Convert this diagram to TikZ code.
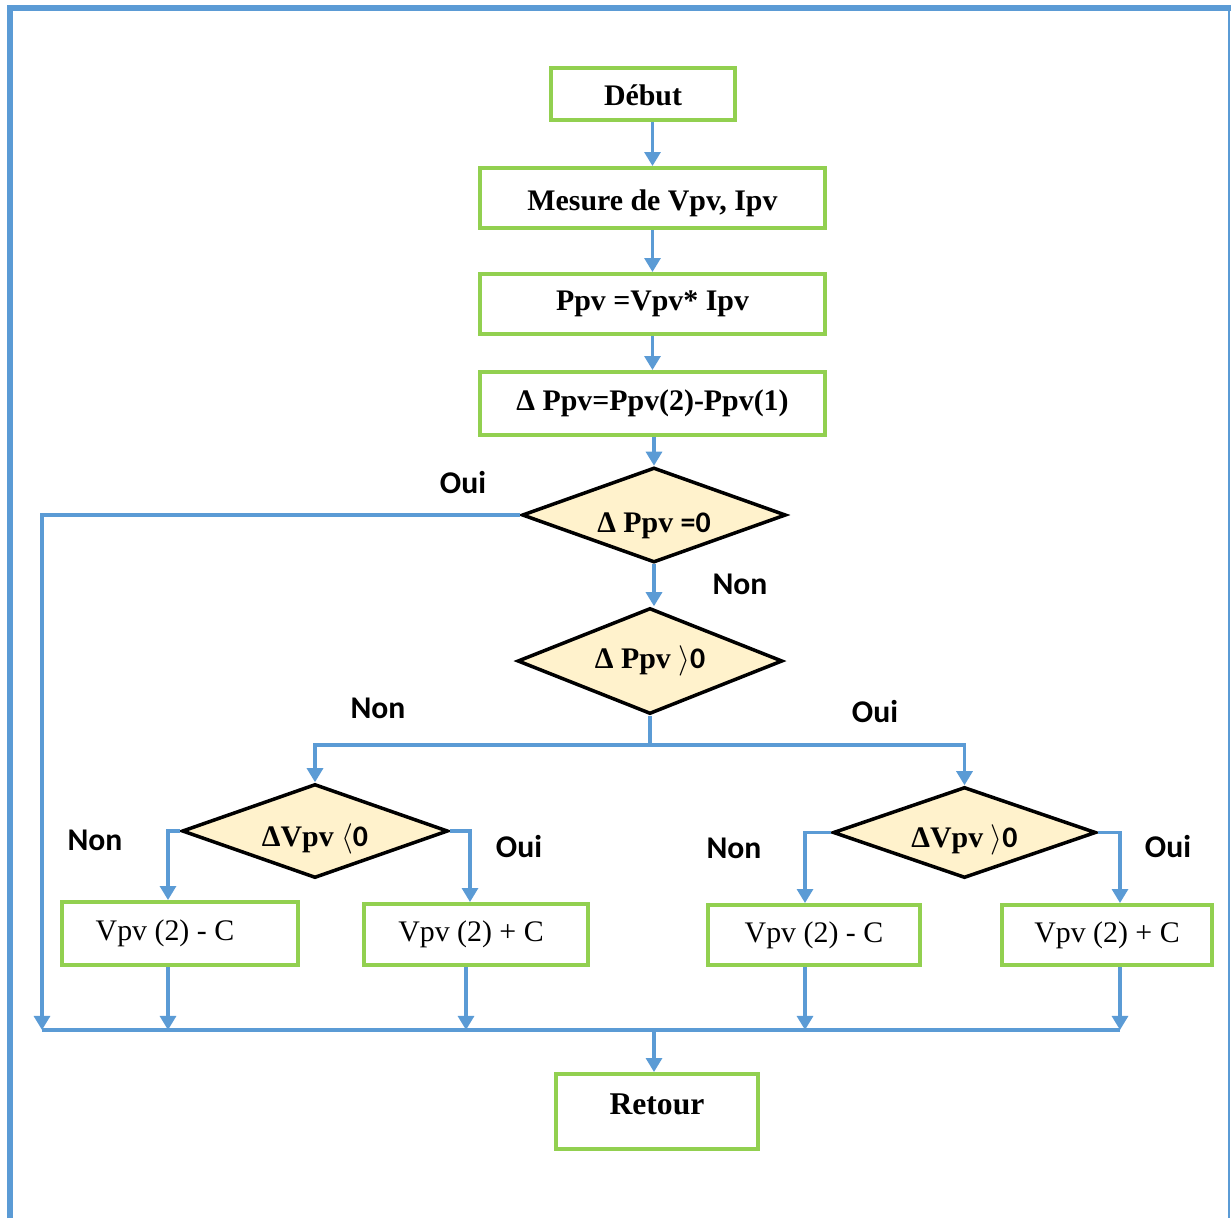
\documentclass[tikz,border=0pt]{standalone}
\usepackage{fontspec}
\setmainfont{Liberation Serif}
\newfontfamily\carlito{Carlito}
\usetikzlibrary{arrows.meta}
\usetikzlibrary{shapes.geometric}

\definecolor{linkblue}{HTML}{5B9BD5}
\definecolor{boxgreen}{HTML}{92D050}
\definecolor{decfill}{HTML}{FFF2CC}

\tikzset{
    procbox/.style={
        draw=boxgreen,
        line width=2.2pt,
        inner sep=0pt,
        font=\fontsize{17}{20}\selectfont\bfseries
    },
    valbox/.style={
        procbox,
        font=\fontsize{17}{20}\selectfont
    },
    decision/.style={
        diamond,
        aspect=2.8,
        draw=black,
        fill=decfill,
        line width=2pt,
        inner sep=0pt,
        font=\fontsize{17}{20}\selectfont\bfseries
    },
    link/.style={draw=linkblue, line width=2.2pt},
    flow/.style={link, -{Triangle[width=9pt,length=8pt]}},
    answer/.style={font=\carlito\fontsize{18}{20}\selectfont\bfseries}
}

\begin{document}
\begin{tikzpicture}[x=0.02cm, y=-0.02cm]
        \useasboundingbox (0,0) rectangle (1231,1218);
        % frame
        \draw[linkblue, line width=0.12cm] (10,1218) -- (10,8) -- (1231,8);
        \draw[linkblue, line width=0.04cm] (1229,8) -- (1229,1218);

        % top of the chart
        \node[procbox, minimum width=3.68cm, minimum height=1.04cm, text height=0.45cm, text depth=0cm] (debut) at (643,94) {Début};
        \node[procbox, minimum width=6.9cm, minimum height=1.2cm, text height=0.5cm, text depth=0cm] (mesure) at (652.5,198) {Mesure de Vpv, Ipv};
        \node[procbox, minimum width=6.9cm, minimum height=1.2cm] (ppv) at (652.5,304) {Ppv =Vpv* Ipv};
        \node[procbox, minimum width=6.9cm, minimum height=1.26cm] (dppv) at (652.5,403.5) {Δ Ppv=Ppv(2)-Ppv(1)};

        % tests
        \node[decision, minimum width=5.28cm, minimum height=1.9cm, text height=0.7cm, text depth=0cm] (d1) at (654,515) {Δ Ppv {\carlito =0}};
        \node[decision, minimum width=5.3cm, minimum height=2.12cm] (d2) at (650,661) {Δ Ppv $\rangle${\carlito 0}};
        \node[decision, minimum width=5.32cm, minimum height=1.88cm, text height=0.6cm, text depth=0cm] (d3) at (315,831) {ΔVpv $\langle${\carlito 0}};
        \node[decision, minimum width=5.26cm, minimum height=1.82cm, text height=0.6cm, text depth=0cm] (d4) at (964.5,832.5) {ΔVpv $\rangle${\carlito 0}};

        % new values
        \node[valbox, minimum width=4.72cm, minimum height=1.26cm] (b1) at (180,933.5) {\hspace*{-0.6cm}Vpv (2) - C};
        \node[valbox, minimum width=4.48cm, minimum height=1.22cm] (b2) at (476,934.5) {\hspace*{-0.2cm}Vpv (2) + C};
        \node[valbox, minimum width=4.24cm, minimum height=1.2cm] (b3) at (814,935) {Vpv (2) - C};
        \node[valbox, minimum width=4.2cm, minimum height=1.2cm] (b4) at (1107,935) {Vpv (2) + C};
        \node[procbox, minimum width=4.04cm, minimum height=1.5cm, text height=0.3cm, text depth=0.2cm, font=\fontsize{18}{20}\selectfont\bfseries] (retour) at (657,1111.5) {Retour};

        \coordinate (fork) at (650,745);
        \coordinate (bus) at (654,1030);
        \coordinate (busl) at (42,1030);
        \coordinate (busr) at (1120,1030);

        % connectors
        \draw[flow] (mesure.north |- debut.south) -- (mesure.north);
        \draw[flow] (mesure) -- (ppv);
        \draw[flow] (ppv) -- (dppv);
        \draw[flow] (dppv.south -| d1.north) -- (d1.north);
        \draw[flow] (d1.south) -- (d1.south |- d2.north);
        \draw[flow] (d1.west) -| (busl);
        \draw[link] (d2.south) -- (fork);
        \draw[flow] (fork) -| (d3.north);
        \draw[flow] (fork) -| (d4.north);
        \draw[flow] (d3.west) -| ([xshift=-0.24cm]b1.north);
        \draw[flow] (d3.east) -| ([xshift=-0.12cm]b2.north);
        \draw[flow] (d4.west) -| ([xshift=-0.18cm]b3.north);
        \draw[flow] (d4.east) -| ([xshift=0.26cm]b4.north);
        \draw[flow] ([xshift=-0.24cm]b1.south) -- ([xshift=-0.24cm]b1.south |- bus);
        \draw[flow] ([xshift=-0.2cm]b2.south) -- ([xshift=-0.2cm]b2.south |- bus);
        \draw[flow] ([xshift=-0.18cm]b3.south) -- ([xshift=-0.18cm]b3.south |- bus);
        \draw[flow] ([xshift=0.26cm]b4.south) -- ([xshift=0.26cm]b4.south |- bus);
        \draw[link] (busl) -- (busr);
        \draw[flow] (bus) -- (bus |- retour.north);

        % answers
        \node[answer] (oui1) at (463,483) {Oui};
        \node[answer] (non1) at (740,584) {Non};
        \node[answer] (non2) at (378,708) {Non};
        \node[answer] (oui2) at (875,712) {Oui};
        \node[answer] (non3) at (95,840) {Non};
        \node[answer] (oui3) at (519,847) {Oui};
        \node[answer] (non4) at (734,848) {Non};
        \node[answer] (oui4) at (1168,847) {Oui};
\end{tikzpicture}
\end{document}
